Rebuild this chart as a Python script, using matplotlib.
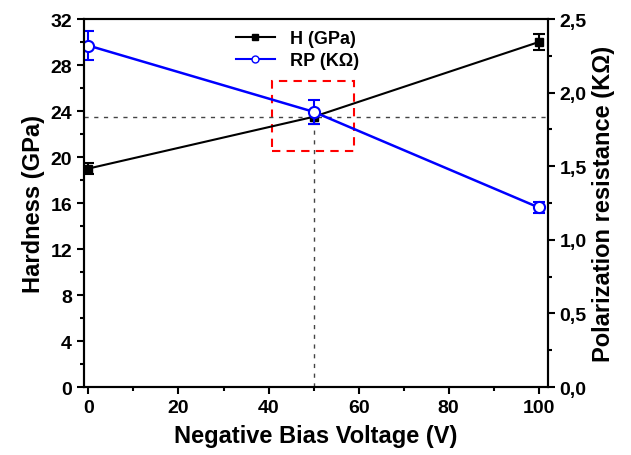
import matplotlib.pyplot as plt
from matplotlib.lines import Line2D
from matplotlib.patches import Rectangle
from matplotlib.ticker import MultipleLocator, FuncFormatter

plt.rcParams['font.family'] = ['Liberation Sans', 'DejaVu Sans']
plt.rcParams['font.weight'] = 'bold'

voltage = [0, 50, 100]
hardness = [19.0, 23.5, 30.0]
hardness_err = [0.5, 0.6, 0.7]
rp = [2.32, 1.87, 1.22]
rp_err = [0.1, 0.08, 0.04]
cross_v = 50
cross_h = 23.5

fig = plt.figure(figsize=(6.31, 4.56), dpi=100)
ax = fig.add_axes([0.133, 0.149, 0.735, 0.807])
ax2 = ax.twinx()

ax.errorbar(voltage, hardness, yerr=hardness_err, color='black', marker='s', ms=6,
            lw=1.5, capsize=4, elinewidth=1.5, capthick=1.5)
ax2.errorbar(voltage, rp, yerr=rp_err, color='blue', marker='o', ms=8, mfc='white',
             mec='blue', mew=1.5, lw=1.8, capsize=4, elinewidth=1.5, capthick=1.5)

ax.axhline(cross_h, color='#444444', ls=(0, (3, 4)), lw=1)
ax.plot([cross_v, cross_v], [0, cross_h], color='#444444', ls=(0, (3, 4)), lw=1)
ax.add_patch(Rectangle((40.7, 20.5), 18.3, 6.1, fill=False, ec='red', ls=(0, (4, 3)), lw=1.5))

ax.set_xlim(-1, 102)
ax.set_ylim(0, 32)
ax2.set_ylim(0, 2.5)
ax.xaxis.set_major_locator(MultipleLocator(20))
ax.xaxis.set_minor_locator(MultipleLocator(10))
ax.yaxis.set_major_locator(MultipleLocator(4))
ax.yaxis.set_minor_locator(MultipleLocator(2))
ax2.yaxis.set_major_locator(MultipleLocator(0.5))
ax2.yaxis.set_minor_locator(MultipleLocator(0.25))
ax2.yaxis.set_major_formatter(FuncFormatter(lambda v, p: f'{v:.1f}'.replace('.', ',')))

for a in (ax, ax2):
    a.tick_params(which='major', length=5, width=1.5, labelsize=14)
    a.tick_params(which='minor', length=3, width=1.5)
    for s in a.spines.values():
        s.set_linewidth(1.5)

ax.set_xlabel('Negative Bias Voltage (V)', fontsize=17, fontweight='bold', labelpad=6)
ax.set_ylabel('Hardness (GPa)', fontsize=17, fontweight='bold')
ax2.set_ylabel('Polarization resistance (K\u03a9)', fontsize=17, fontweight='bold')

handles = [Line2D([], [], color='black', marker='s', ms=4, lw=1.5),
           Line2D([], [], color='blue', marker='o', ms=5, mfc='white', mec='blue', lw=1.5)]
ax.legend(handles, ['H (GPa)', 'RP (K\u03a9)'], loc='upper center', bbox_to_anchor=(0.46, 1.0),
          frameon=False, fontsize=13, handlelength=2.2, borderaxespad=0.2, labelspacing=0.3)

fig.savefig('out.png')
